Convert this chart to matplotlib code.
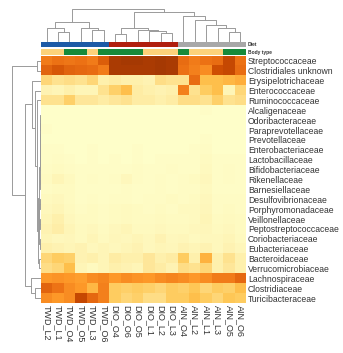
import matplotlib
matplotlib.use("Agg")
import matplotlib.pyplot as plt
import numpy as np
from matplotlib.colors import LinearSegmentedColormap, ListedColormap

plt.rcParams['font.family'] = ['Liberation Sans', 'DejaVu Sans']

samples = ['TWD_L2', 'TWD_L1', 'TWD_O4', 'TWD_O5', 'TWD_L3', 'TWD_O6',
           'DIO_O4', 'DIO_O6', 'DIO_O5', 'DIO_L1', 'DIO_L2', 'DIO_L3',
           'AIN_O4', 'AIN_L2', 'AIN_L1', 'AIN_L3', 'AIN_O5', 'AIN_O6']
diet = [0] * 6 + [1] * 6 + [2] * 6
body = [0, 0, 1, 1, 0, 1, 1, 1, 1, 0, 0, 0, 1, 0, 0, 0, 1, 1]

families = ['Streptococcaceae', 'Clostridiales unknown', 'Erysipelotrichaceae',
            'Enterococcaceae', 'Ruminococcaceae', 'Alcaligenaceae',
            'Odoribacteraceae', 'Paraprevotellaceae', 'Prevotellaceae',
            'Enterobacteriaceae', 'Lactobacillaceae', 'Bifidobacteriaceae',
            'Rikenellaceae', 'Barnesiellaceae', 'Desulfovibrionaceae',
            'Porphyromonadaceae', 'Veillonellaceae', 'Peptostreptococcaceae',
            'Coriobacteriaceae', 'Eubacteriaceae', 'Bacteroidaceae',
            'Verrucomicrobiaceae', 'Lachnospiraceae', 'Clostridiaceae',
            'Turicibacteraceae']

# scaled abundance, one row per family
abundance = [
    [0.62, 0.66, 0.64, 0.66, 0.62, 0.75, 0.92, 0.93, 0.93, 0.92, 0.93, 0.92, 0.68, 0.62, 0.66, 0.68, 0.85, 0.66],
    [0.72, 0.78, 0.72, 0.70, 0.68, 0.62, 0.92, 0.92, 0.92, 0.92, 0.93, 0.92, 0.66, 0.60, 0.55, 0.82, 0.85, 0.68],
    [0.25, 0.20, 0.22, 0.20, 0.25, 0.12, 0.15, 0.12, 0.12, 0.10, 0.22, 0.20, 0.20, 0.68, 0.35, 0.35, 0.38, 0.42],
    [0.10, 0.08, 0.12, 0.08, 0.08, 0.20, 0.28, 0.35, 0.15, 0.12, 0.10, 0.12, 0.60, 0.20, 0.30, 0.35, 0.08, 0.25],
    [0.20, 0.20, 0.28, 0.18, 0.18, 0.15, 0.18, 0.20, 0.15, 0.15, 0.12, 0.15, 0.22, 0.22, 0.20, 0.28, 0.20, 0.22],
    [0.01, 0.01, 0.01, 0.01, 0.01, 0.01, 0.01, 0.01, 0.01, 0.01, 0.01, 0.01, 0.01, 0.01, 0.02, 0.01, 0.01, 0.01],
    [0.01, 0.01, 0.01, 0.01, 0.01, 0.01, 0.01, 0.01, 0.01, 0.01, 0.01, 0.01, 0.01, 0.01, 0.01, 0.01, 0.01, 0.01],
    [0.02, 0.01, 0.01, 0.01, 0.01, 0.01, 0.01, 0.01, 0.01, 0.01, 0.01, 0.01, 0.01, 0.01, 0.01, 0.01, 0.01, 0.01],
    [0.01, 0.01, 0.01, 0.01, 0.01, 0.01, 0.01, 0.01, 0.01, 0.01, 0.01, 0.01, 0.01, 0.01, 0.02, 0.01, 0.01, 0.01],
    [0.02, 0.02, 0.01, 0.01, 0.02, 0.01, 0.01, 0.01, 0.02, 0.01, 0.01, 0.01, 0.01, 0.02, 0.03, 0.01, 0.01, 0.01],
    [0.02, 0.03, 0.02, 0.01, 0.02, 0.01, 0.02, 0.01, 0.02, 0.01, 0.02, 0.02, 0.02, 0.02, 0.04, 0.02, 0.02, 0.02],
    [0.03, 0.04, 0.03, 0.02, 0.02, 0.02, 0.02, 0.02, 0.03, 0.02, 0.02, 0.03, 0.02, 0.02, 0.05, 0.02, 0.03, 0.02],
    [0.04, 0.08, 0.05, 0.02, 0.03, 0.02, 0.03, 0.06, 0.03, 0.02, 0.03, 0.02, 0.03, 0.04, 0.06, 0.02, 0.03, 0.02],
    [0.03, 0.04, 0.04, 0.02, 0.02, 0.02, 0.02, 0.03, 0.02, 0.02, 0.03, 0.02, 0.03, 0.03, 0.05, 0.02, 0.02, 0.02],
    [0.05, 0.06, 0.04, 0.02, 0.03, 0.02, 0.03, 0.03, 0.02, 0.03, 0.03, 0.04, 0.03, 0.04, 0.06, 0.03, 0.03, 0.03],
    [0.06, 0.08, 0.05, 0.03, 0.04, 0.03, 0.04, 0.05, 0.04, 0.03, 0.04, 0.03, 0.05, 0.05, 0.07, 0.03, 0.04, 0.03],
    [0.08, 0.12, 0.06, 0.04, 0.04, 0.03, 0.04, 0.05, 0.04, 0.04, 0.05, 0.04, 0.04, 0.05, 0.08, 0.04, 0.05, 0.04],
    [0.10, 0.14, 0.08, 0.05, 0.06, 0.04, 0.06, 0.08, 0.05, 0.05, 0.06, 0.05, 0.05, 0.06, 0.07, 0.05, 0.06, 0.04],
    [0.08, 0.06, 0.07, 0.05, 0.08, 0.05, 0.07, 0.06, 0.08, 0.06, 0.10, 0.06, 0.07, 0.05, 0.06, 0.06, 0.08, 0.05],
    [0.12, 0.10, 0.08, 0.10, 0.06, 0.08, 0.06, 0.08, 0.10, 0.06, 0.08, 0.07, 0.10, 0.08, 0.10, 0.06, 0.10, 0.07],
    [0.25, 0.30, 0.28, 0.10, 0.12, 0.08, 0.15, 0.12, 0.12, 0.18, 0.12, 0.15, 0.30, 0.12, 0.40, 0.12, 0.20, 0.12],
    [0.22, 0.25, 0.35, 0.08, 0.05, 0.08, 0.12, 0.10, 0.08, 0.18, 0.15, 0.10, 0.22, 0.20, 0.25, 0.12, 0.18, 0.12],
    [0.50, 0.52, 0.50, 0.48, 0.55, 0.58, 0.50, 0.55, 0.52, 0.50, 0.55, 0.58, 0.55, 0.50, 0.55, 0.62, 0.62, 0.70],
    [0.72, 0.65, 0.55, 0.50, 0.38, 0.60, 0.30, 0.28, 0.30, 0.28, 0.25, 0.30, 0.28, 0.32, 0.25, 0.30, 0.28, 0.35],
    [0.55, 0.50, 0.55, 0.85, 0.70, 0.60, 0.30, 0.25, 0.28, 0.22, 0.22, 0.30, 0.30, 0.35, 0.30, 0.25, 0.32, 0.30],
]

# linkage-like merges: (child a, child b, height); new ids start after leaves
col_merges = [(1, 2, 10.3), (0, 18, 14.3), (4, 5, 12.5), (3, 20, 14.0),
              (19, 21, 20.3), (6, 7, 7.7), (10, 11, 8.7), (9, 24, 11.0),
              (8, 25, 12.5), (23, 26, 14.3), (16, 17, 10.0), (15, 28, 13.7),
              (14, 29, 17.0), (13, 30, 22.0), (12, 31, 26.3), (27, 32, 30.3),
              (22, 33, 32.7)]
row_merges = [(0, 1, 4.3), (23, 24, 6.0), (22, 26, 10.3), (5, 6, 0.5),
              (28, 7, 0.8), (8, 9, 0.6), (29, 30, 1.0), (10, 11, 0.7),
              (31, 32, 1.2), (12, 13, 0.8), (33, 34, 1.5), (14, 15, 1.0),
              (16, 17, 1.1), (36, 37, 1.6), (18, 19, 1.2), (38, 39, 1.9),
              (35, 40, 2.3), (20, 21, 2.2), (41, 42, 3.0), (4, 43, 4.0),
              (3, 44, 6.3), (2, 45, 9.3), (46, 27, 16.0), (25, 47, 29.3)]

diet_colors = ['#1d5aa6', '#b01e0e', '#a8a8a8']
body_colors = ['#fcd27a', '#178a3a']
heat_cmap = LinearSegmentedColormap.from_list(
    'heat', ['#ffffcc', '#feeaa0', '#fec44f', '#fe9929', '#ec7014', '#cc4c02', '#8c2d04'])


def dendro(ax, merges, n, top=True):
    pos = {i: (float(i), 0.0) for i in range(n)}
    for k, (a, b, h) in enumerate(merges):
        xa, ha = pos[a]
        xb, hb = pos[b]
        xs = [xa, xa, xb, xb]
        hs = [ha, h, h, hb]
        if top:
            ax.plot(xs, hs, color='#9a9a9a', lw=0.7)
        else:
            ax.plot(hs, xs, color='#9a9a9a', lw=0.7)
        pos[n + k] = ((xa + xb) / 2, h)
    ax.axis('off')


W, H = 343, 353
fig = plt.figure(figsize=(3.43, 3.53), dpi=100)


def px_axes(x0, y0, x1, y1):
    return fig.add_axes([x0 / W, 1 - y1 / H, (x1 - x0) / W, (y1 - y0) / H])


data = np.array(abundance)
nr, nc = data.shape

ax = px_axes(41, 56, 246, 303)
ax.imshow(data, cmap=heat_cmap, vmin=0, vmax=1, aspect='auto', interpolation='nearest')
ax.set_xticks(range(nc))
ax.set_xticklabels(samples, rotation=270, fontsize=6.5, color='#333333')
ax.set_yticks(range(nr))
ax.set_yticklabels(families, fontsize=6.2, color='#333333')
ax.yaxis.tick_right()
ax.tick_params(length=0, pad=1.5)
for s in ax.spines.values():
    s.set_visible(False)

ax_diet = px_axes(41, 42.3, 246, 46.7)
ax_diet.imshow([diet], cmap=ListedColormap(diet_colors), vmin=0, vmax=2,
               aspect='auto', interpolation='nearest')
ax_diet.set_xticks([])
ax_diet.set_yticks([])
for s in ax_diet.spines.values():
    s.set_visible(False)
ax_diet.text(1.01, 0.5, 'Diet', transform=ax_diet.transAxes, fontsize=3.5,
             fontweight='bold', va='center', color='#333333')

ax_body = px_axes(41, 49.3, 246, 55)
ax_body.imshow([body], cmap=ListedColormap(body_colors), vmin=0, vmax=1,
               aspect='auto', interpolation='nearest')
ax_body.set_xticks([])
ax_body.set_yticks([])
for s in ax_body.spines.values():
    s.set_visible(False)
ax_body.text(1.01, 0.5, 'Body type', transform=ax_body.transAxes, fontsize=3.5,
             fontweight='bold', va='center', color='#333333')

ax_top = px_axes(41, 9, 246, 42)
dendro(ax_top, col_merges, nc, top=True)
ax_top.set_xlim(-0.5, nc - 0.5)
ax_top.set_ylim(0, 33)

ax_left = px_axes(8, 56, 41, 303)
dendro(ax_left, row_merges, nr, top=False)
ax_left.set_ylim(nr - 0.5, -0.5)
ax_left.set_xlim(33, 0)

fig.savefig('out.png', dpi=100)
